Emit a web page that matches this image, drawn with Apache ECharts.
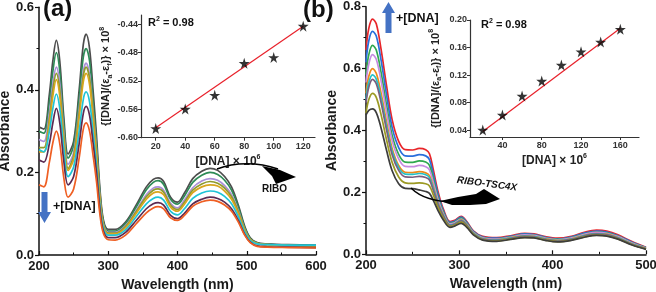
<!DOCTYPE html>
<html><head><meta charset="utf-8">
<script src="https://cdn.jsdelivr.net/npm/echarts@6/dist/echarts.min.js"></script>
<style>html,body{margin:0;padding:0;background:#fff}#c{width:656px;height:292px}</style>
</head><body><div id="c"></div>
<script>
// ---------- Panel (a): RIBO spectra ----------
const wavelengthA = [200,207,215,220,225,230,236,242,250,258,264,268,273,278,283,288,293,300,310,325,340,355,365,372,380,390,400,410,422,435,447,458,468,478,488,497,505,515,530,560,600];
const absA1 = [0.31,0.305,0.39,0.47,0.52,0.47,0.33,0.245,0.275,0.40,0.51,0.535,0.50,0.40,0.29,0.16,0.085,0.062,0.062,0.08,0.12,0.165,0.183,0.187,0.178,0.14,0.128,0.15,0.185,0.203,0.21,0.205,0.19,0.165,0.12,0.07,0.042,0.03,0.027,0.025,0.024];
const absA2 = [0.30,0.295,0.37,0.445,0.49,0.445,0.315,0.235,0.265,0.38,0.48,0.50,0.47,0.375,0.27,0.15,0.08,0.058,0.058,0.076,0.115,0.158,0.176,0.18,0.171,0.135,0.123,0.143,0.176,0.193,0.20,0.195,0.181,0.157,0.115,0.067,0.04,0.029,0.026,0.024,0.023];
const absA3 = [0.28,0.275,0.345,0.415,0.455,0.415,0.295,0.22,0.248,0.355,0.445,0.465,0.437,0.35,0.255,0.14,0.075,0.055,0.055,0.071,0.107,0.146,0.162,0.165,0.157,0.125,0.114,0.133,0.163,0.179,0.185,0.181,0.168,0.146,0.107,0.063,0.038,0.028,0.025,0.023,0.022];
const absA4 = [0.26,0.26,0.33,0.40,0.44,0.40,0.285,0.21,0.24,0.345,0.435,0.455,0.428,0.343,0.25,0.137,0.073,0.053,0.053,0.069,0.104,0.141,0.157,0.16,0.152,0.121,0.11,0.128,0.157,0.172,0.178,0.174,0.162,0.141,0.104,0.062,0.038,0.028,0.025,0.023,0.022];
const absA5 = [0.25,0.25,0.32,0.385,0.425,0.385,0.275,0.205,0.232,0.333,0.42,0.44,0.413,0.332,0.242,0.133,0.07,0.051,0.051,0.066,0.10,0.135,0.15,0.153,0.146,0.116,0.106,0.123,0.151,0.165,0.17,0.167,0.155,0.135,0.10,0.06,0.037,0.028,0.025,0.023,0.022];
const absA6 = [0.255,0.25,0.30,0.355,0.39,0.355,0.255,0.19,0.213,0.30,0.377,0.395,0.371,0.298,0.218,0.12,0.065,0.048,0.048,0.061,0.092,0.124,0.137,0.14,0.133,0.106,0.097,0.112,0.137,0.15,0.155,0.152,0.142,0.124,0.092,0.056,0.035,0.027,0.025,0.024,0.024];
const absA7 = [0.23,0.225,0.27,0.32,0.355,0.32,0.225,0.17,0.19,0.27,0.343,0.36,0.338,0.272,0.20,0.11,0.058,0.042,0.042,0.055,0.083,0.112,0.124,0.127,0.121,0.096,0.088,0.101,0.124,0.135,0.14,0.137,0.128,0.112,0.083,0.05,0.031,0.022,0.02,0.019,0.018];
const absA8 = [0.17,0.165,0.225,0.272,0.30,0.27,0.185,0.14,0.16,0.235,0.305,0.32,0.30,0.242,0.178,0.098,0.052,0.037,0.036,0.048,0.075,0.102,0.114,0.117,0.112,0.09,0.084,0.096,0.118,0.129,0.133,0.13,0.121,0.106,0.079,0.048,0.03,0.021,0.019,0.018,0.017];
const seriesA = [absA1,absA2,absA3,absA4,absA5,absA6,absA7,absA8];
const colorsA = ['#4d4d4d','#2e8b57','#a98fd8','#8f9b2c','#d8a51e','#1fc4d6','#5b2b52','#ef5f23'];

// inset (a)
const dnaA = [20,40,60,80,100,120];
const ratioA = [-0.587,-0.5596,-0.540,-0.4952,-0.4868,-0.4427];
const fitA = [[20,-0.586],[120,-0.443]];
const insetAxTicks = [20,40,60,80,100,120];
const insetAyTicks = [-0.60,-0.56,-0.52,-0.48,-0.44];

// ---------- Panel (b): RIBO-TSC4X spectra ----------
const wavelengthB = [200,203,207,211,216,222,228,235,242,250,257,264,268,272,277,283,290,295,302,308,315,325,340,355,370,380,392,405,420,435,447,458,470,485,500];
const absB1 = [0.66,0.73,0.76,0.745,0.665,0.545,0.435,0.365,0.338,0.337,0.342,0.338,0.325,0.275,0.205,0.145,0.106,0.11,0.123,0.106,0.076,0.058,0.054,0.06,0.068,0.066,0.057,0.052,0.058,0.072,0.078,0.075,0.063,0.041,0.023];
const absB2 = [0.62,0.69,0.72,0.705,0.63,0.515,0.41,0.345,0.318,0.317,0.322,0.318,0.306,0.26,0.196,0.14,0.103,0.107,0.12,0.103,0.074,0.056,0.052,0.058,0.066,0.064,0.055,0.05,0.056,0.069,0.075,0.072,0.06,0.039,0.022];
const absB3 = [0.58,0.645,0.675,0.66,0.59,0.482,0.385,0.323,0.298,0.297,0.302,0.298,0.287,0.245,0.186,0.135,0.10,0.104,0.117,0.10,0.072,0.054,0.05,0.056,0.064,0.062,0.053,0.048,0.054,0.066,0.072,0.069,0.058,0.037,0.021];
const absB4 = [0.555,0.615,0.645,0.63,0.563,0.46,0.368,0.308,0.284,0.283,0.287,0.283,0.273,0.234,0.179,0.131,0.098,0.102,0.114,0.098,0.071,0.053,0.049,0.055,0.063,0.061,0.052,0.047,0.053,0.065,0.071,0.068,0.057,0.036,0.02];
const absB5 = [0.52,0.575,0.60,0.585,0.523,0.428,0.342,0.287,0.265,0.264,0.267,0.263,0.254,0.219,0.169,0.126,0.095,0.099,0.111,0.095,0.069,0.051,0.047,0.053,0.06,0.058,0.05,0.045,0.05,0.062,0.067,0.065,0.054,0.034,0.019];
const absB6 = [0.50,0.555,0.58,0.566,0.506,0.414,0.332,0.28,0.259,0.258,0.261,0.257,0.248,0.214,0.166,0.124,0.094,0.098,0.11,0.094,0.068,0.05,0.046,0.052,0.059,0.057,0.049,0.044,0.049,0.061,0.066,0.064,0.053,0.033,0.018];
const absB7 = [0.49,0.54,0.565,0.551,0.492,0.402,0.322,0.271,0.25,0.249,0.252,0.248,0.24,0.208,0.162,0.122,0.093,0.097,0.108,0.093,0.067,0.049,0.045,0.051,0.058,0.056,0.048,0.043,0.048,0.06,0.065,0.063,0.052,0.032,0.018];
const absB8 = [0.455,0.50,0.52,0.507,0.453,0.37,0.297,0.25,0.231,0.229,0.231,0.228,0.221,0.193,0.152,0.116,0.09,0.094,0.104,0.09,0.065,0.047,0.043,0.049,0.055,0.054,0.046,0.041,0.046,0.057,0.062,0.06,0.05,0.031,0.017];
const absB9 = [0.45,0.465,0.47,0.458,0.41,0.336,0.27,0.228,0.213,0.212,0.208,0.203,0.197,0.175,0.142,0.11,0.087,0.091,0.10,0.087,0.063,0.046,0.042,0.048,0.054,0.053,0.045,0.04,0.045,0.056,0.061,0.059,0.049,0.03,0.016];
const seriesB = [absB1,absB2,absB3,absB4,absB5,absB6,absB7,absB8,absB9];
const colorsB = ['#e8262a','#2a6fdb','#2fa84f','#c68be0','#ee8a1a','#22c1c9','#7a5f7f','#9c9a24','#3d3d3d'];

// inset (b)
const dnaB = [20,40,60,80,100,120,140,160];
const ratioB = [0.040,0.0618,0.0895,0.1113,0.1345,0.1539,0.168,0.1864];
const fitB = [[20,0.038],[160,0.188]];
const insetBxTicks = [40,80,120,160];
const insetByTicks = [0.04,0.08,0.12,0.16,0.20];

// ---------- chart ----------
const FF = '"Liberation Sans", Arial, sans-serif';
const STAR = 'path://M50,0 L61,35 L98,35 L68,57 L79,91 L50,70 L21,91 L32,57 L2,35 L39,35 Z';
const richSub = {
  s:{fontSize:7,fontWeight:'bold',fontFamily:FF,color:'#222',verticalAlign:'bottom',lineHeight:15},
  p:{fontSize:7,fontWeight:'bold',fontFamily:FF,color:'#222',verticalAlign:'top',lineHeight:15}
};

function mainX(gi, min, max) {
  return {gridIndex:gi, type:'value', min:min, max:max, interval:100,
    axisLine:{show:true,onZero:false,lineStyle:{color:'#111',width:1.5}},
    axisTick:{show:true,inside:true,length:4,lineStyle:{color:'#111',width:1.2}},
    minorTick:{show:true,splitNumber:2,length:2.5,lineStyle:{color:'#111',width:1}},
    splitLine:{show:false},
    axisLabel:{fontSize:13,fontWeight:'bold',color:'#1a1a1a',fontFamily:FF,margin:5},
    name:'Wavelength (nm)', nameLocation:'middle', nameGap:20,
    nameTextStyle:{fontSize:14,fontWeight:'bold',color:'#1a1a1a',fontFamily:FF}};
}
function mainY(gi, max, gap) {
  return {gridIndex:gi, type:'value', min:0, max:max, interval:0.2,
    axisLine:{show:true,onZero:false,lineStyle:{color:'#111',width:1.5}},
    axisTick:{show:true,inside:false,length:4,lineStyle:{color:'#111',width:1.2}},
    minorTick:{show:true,splitNumber:2,length:2.5,lineStyle:{color:'#111',width:1}},
    splitLine:{show:false},
    axisLabel:{fontSize:13,fontWeight:'bold',color:'#1a1a1a',fontFamily:FF,margin:5,formatter:v=>v.toFixed(1)},
    name:'Absorbance', nameLocation:'middle', nameGap:gap,
    nameTextStyle:{fontSize:14,fontWeight:'bold',color:'#1a1a1a',fontFamily:FF}};
}
function insetX(gi, min, max, ticks) {
  return {gridIndex:gi, type:'value', min:min, max:max,
    axisLine:{show:true,onZero:false,lineStyle:{color:'#333',width:1.2}},
    axisTick:{show:true,length:3,customValues:ticks,lineStyle:{color:'#333'}},
    splitLine:{show:false},
    axisLabel:{customValues:ticks,fontSize:9,fontWeight:'bold',color:'#333',fontFamily:FF,margin:4},
    name:'[DNA] × 10{p|6}', nameLocation:'middle', nameGap:16,
    nameTextStyle:{fontSize:12,fontWeight:'bold',color:'#222',fontFamily:FF,rich:richSub}};
}
function insetY(gi, min, max, ticks, gap) {
  return {gridIndex:gi, type:'value', min:min, max:max,
    axisLine:{show:true,onZero:false,lineStyle:{color:'#333',width:1.2}},
    axisTick:{show:true,length:3,customValues:ticks,lineStyle:{color:'#333'}},
    splitLine:{show:false},
    axisLabel:{customValues:ticks,fontSize:9,fontWeight:'bold',color:'#333',fontFamily:FF,margin:3,formatter:v=>v.toFixed(2)},
    name:'{[DNA]/(ε{s|a}-ε{s|f})} × 10{p|8}', nameLocation:'middle', nameGap:gap,
    nameTextStyle:{fontSize:11,fontWeight:'bold',color:'#222',fontFamily:FF,rich:richSub}};
}

const series = [];
seriesA.forEach((vals,i)=>{
  series.push({type:'line', xAxisIndex:0, yAxisIndex:0, smooth:0.35, symbol:'none',
    lineStyle:{color:colorsA[i],width:1.7}, data:wavelengthA.map((w,k)=>[w,vals[k]])});
});
series.push({type:'line', xAxisIndex:1, yAxisIndex:1, symbol:'none', z:3,
  lineStyle:{color:'#e8202a',width:1.2}, data:fitA});
series.push({type:'scatter', xAxisIndex:1, yAxisIndex:1, symbol:STAR, symbolSize:11, z:5,
  itemStyle:{color:'#000'}, data:dnaA.map((d,k)=>[d,ratioA[k]])});
seriesB.forEach((vals,i)=>{
  series.push({type:'line', xAxisIndex:2, yAxisIndex:2, smooth:0.35, symbol:'none',
    lineStyle:{color:colorsB[i],width:1.7}, data:wavelengthB.map((w,k)=>[w,vals[k]])});
});
series.push({type:'line', xAxisIndex:3, yAxisIndex:3, symbol:'none', z:3,
  lineStyle:{color:'#e8202a',width:1.2}, data:fitB});
series.push({type:'scatter', xAxisIndex:3, yAxisIndex:3, symbol:STAR, symbolSize:11, z:5,
  itemStyle:{color:'#000'}, data:dnaB.map((d,k)=>[d,ratioB[k]])});

const txt = (x,y,text,size,extra) => Object.assign({type:'text', x:x, y:y, z:50,
  style:Object.assign({text:text, fontSize:size, fontWeight:'bold', fontFamily:FF, fill:'#111'}, extra||{})});

const graphic = [
  txt(43,9,'(a)',24,{verticalAlign:'middle'}),
  txt(303,10,'(b)',24,{verticalAlign:'middle'}),
  txt(148,23,'R{p|2} = 0.98',11,{verticalAlign:'middle',rich:richSub}),
  txt(481,25,'R{p|2} = 0.98',11,{verticalAlign:'middle',rich:richSub}),
  txt(53,207,'+[DNA]',12.5,{verticalAlign:'middle'}),
  txt(396,19,'+[DNA]',12.5,{verticalAlign:'middle'}),
  txt(262,189,'RIBO',10,{verticalAlign:'middle'}),
  {type:'text', x:487, y:184, rotation:-0.13, z:50,
   style:{text:'RIBO-TSC4X', fontSize:10, fontWeight:'bold', fontStyle:'italic', fontFamily:FF, fill:'#111', align:'center', verticalAlign:'middle'}},
  {type:'polygon', z:50, shape:{points:[[41.5,192],[47.5,192],[47.5,212],[51,212],[44.5,223],[38,212],[41.5,212]]}, style:{fill:'#4472C4'}},
  {type:'polygon', z:50, shape:{points:[[385.5,33],[391.5,33],[391.5,13],[395,13],[388.5,2],[382,13],[385.5,13]]}, style:{fill:'#4472C4'}},
  {type:'bezierCurve', z:50, shape:{x1:217,y1:169,cpx1:235,cpy1:162,cpx2:258,cpy2:162,x2:278,y2:169}, style:{stroke:'#000',lineWidth:1.5,fill:null}},
  {type:'polygon', z:50, shape:{points:[[262,166],[280,170],[296,177],[276,184],[272,176]]}, style:{fill:'#000'}},
  {type:'bezierCurve', z:50, shape:{x1:411,y1:188,cpx1:420,cpy1:197,cpx2:435,cpy2:202,x2:455,y2:202}, style:{stroke:'#000',lineWidth:1.5,fill:null}},
  {type:'polygon', z:50, shape:{points:[[440,201],[458,197],[476,194],[484,189],[500,199],[486,204],[470,205],[452,205]]}, style:{fill:'#000'}}
];

const chart = echarts.init(document.getElementById('c'), null, {renderer:'canvas'});
chart.setOption({
  animation:false,
  backgroundColor:'#fff',
  grid:[
    {left:39, top:7.3, width:277, height:247.7, outerBoundsMode:'none', containLabel:false},
    {left:141, top:15, width:174, height:122.7, outerBoundsMode:'none', containLabel:false},
    {left:366, top:6.7, width:280, height:247.6, outerBoundsMode:'none', containLabel:false},
    {left:470, top:20, width:169, height:117, outerBoundsMode:'none', containLabel:false}
  ],
  xAxis:[ mainX(0,200,600), insetX(1,10,128,insetAxTicks), mainX(2,200,500), insetX(3,7,179,insetBxTicks) ],
  yAxis:[ mainY(0,0.6,22), insetY(1,-0.60,-0.427,insetAyTicks,25), mainY(2,0.8,24), insetY(3,0.03,0.20,insetByTicks,27) ],
  series:series,
  graphic:graphic
});
</script></body></html>
